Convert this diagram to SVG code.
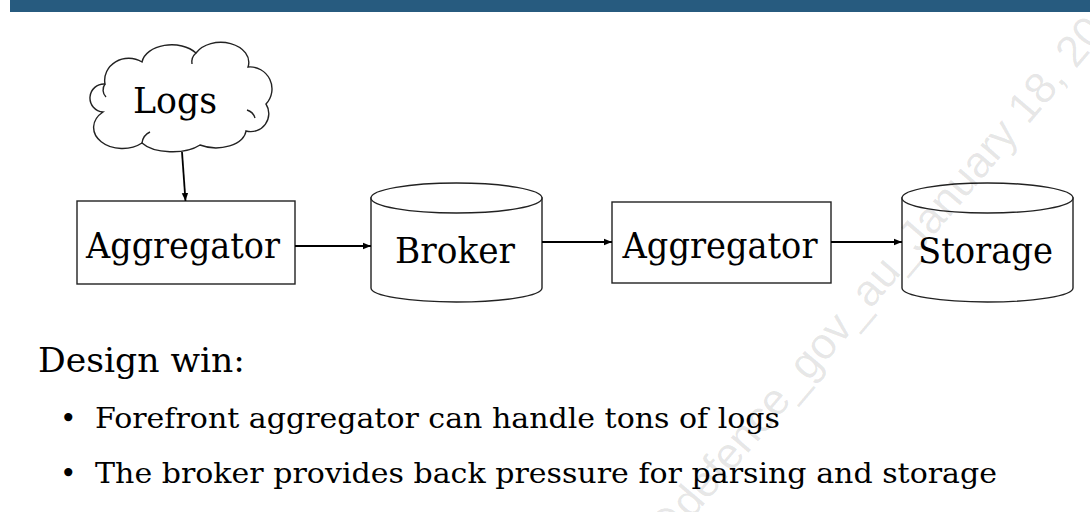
<svg xmlns="http://www.w3.org/2000/svg" width="1090" height="512" viewBox="0 0 1090 512">
<defs>
<style>
.t{font-family:"DejaVu Serif","Liberation Serif",serif;fill:#000}
.n{font-size:35px;text-anchor:middle}
.shape{fill:#fff;stroke:#222;stroke-width:1.4}
.conn{stroke:#000;stroke-width:1.8;fill:none;marker-end:url(#ah)}
.wm{font-family:"Liberation Sans","DejaVu Sans",sans-serif;font-size:44px;fill:#000;fill-opacity:0.1}
</style>
<marker id="ah" markerUnits="userSpaceOnUse" markerWidth="9" markerHeight="8" refX="8" refY="4" orient="auto">
<path d="M0,0.8 L8,4 L0,7.2 Z" fill="#000"/>
</marker>
</defs>
<rect x="0" y="0" width="1090" height="512" fill="#fff"/>
<rect x="10" y="0" width="1080" height="12" fill="#275b7f"/>

<g id="logs">
<path class="shape" d="M103,112 A14,14 0 0 1 105,84 A24,22 0 0 1 142,62 A30,20 0 0 1 196,53 A28,20 0 0 1 248,67 A22,22 0 0 1 266,104 A18,18 0 0 1 246,131 A30,18 0 0 1 200,145 A34,16 0 0 1 142,143 A22,16 0 0 1 103,112 Z"/>
<path d="M105,84 A10,10 0 0 0 106,97 M247,110 A12,12 0 0 1 255,118 M196,53 A12,12 0 0 0 192,64 M142,143 A14,14 0 0 1 150,132" fill="none" stroke="#222" stroke-width="1.4"/>
<text class="t n" x="175" y="113" textLength="84" lengthAdjust="spacingAndGlyphs">Logs</text>
</g>

<g id="aggregator1">
<rect class="shape" x="77" y="201" width="218" height="83"/>
<text class="t n" x="183" y="258" textLength="194" lengthAdjust="spacingAndGlyphs">Aggregator</text>
</g>

<g id="broker">
<path class="shape" d="M371,198 L371,288 A85.5,14 0 0 0 542,288 L542,198 Z"/>
<ellipse class="shape" cx="456.5" cy="198" rx="85.5" ry="15"/>
<text class="t n" x="455" y="263" textLength="120" lengthAdjust="spacingAndGlyphs">Broker</text>
</g>

<g id="aggregator2">
<rect class="shape" x="612" y="202" width="219" height="81"/>
<text class="t n" x="720" y="258" textLength="195" lengthAdjust="spacingAndGlyphs">Aggregator</text>
</g>

<g id="storage">
<path class="shape" d="M902,198 L902,288 A85.5,14 0 0 0 1073,288 L1073,198 Z"/>
<ellipse class="shape" cx="987.5" cy="198" rx="85.5" ry="15"/>
<text class="t n" x="985.5" y="263" textLength="135" lengthAdjust="spacingAndGlyphs">Storage</text>
</g>

<g id="connectors">
<line class="conn" x1="182" y1="152" x2="185.5" y2="201"/>
<line class="conn" x1="295" y1="246" x2="371" y2="246"/>
<line class="conn" x1="542" y1="242" x2="612" y2="242"/>
<line class="conn" x1="831" y1="242" x2="902" y2="242"/>
</g>

<g id="notes">
<text class="t" x="38" y="372" font-size="34" textLength="207" lengthAdjust="spacingAndGlyphs">Design win:</text>
<text class="t" x="60" y="428" font-size="28">•</text>
<text class="t" x="95" y="428" font-size="28" textLength="685" lengthAdjust="spacingAndGlyphs">Forefront aggregator can handle tons of logs</text>
<text class="t" x="60" y="483" font-size="28">•</text>
<text class="t" x="95" y="483" font-size="28" textLength="902" lengthAdjust="spacingAndGlyphs">The broker provides back pressure for parsing and storage</text>
</g>

<text class="wm" transform="translate(662,554) rotate(-49.5)">@defence_gov_au_January 18, 20</text>
</svg>
